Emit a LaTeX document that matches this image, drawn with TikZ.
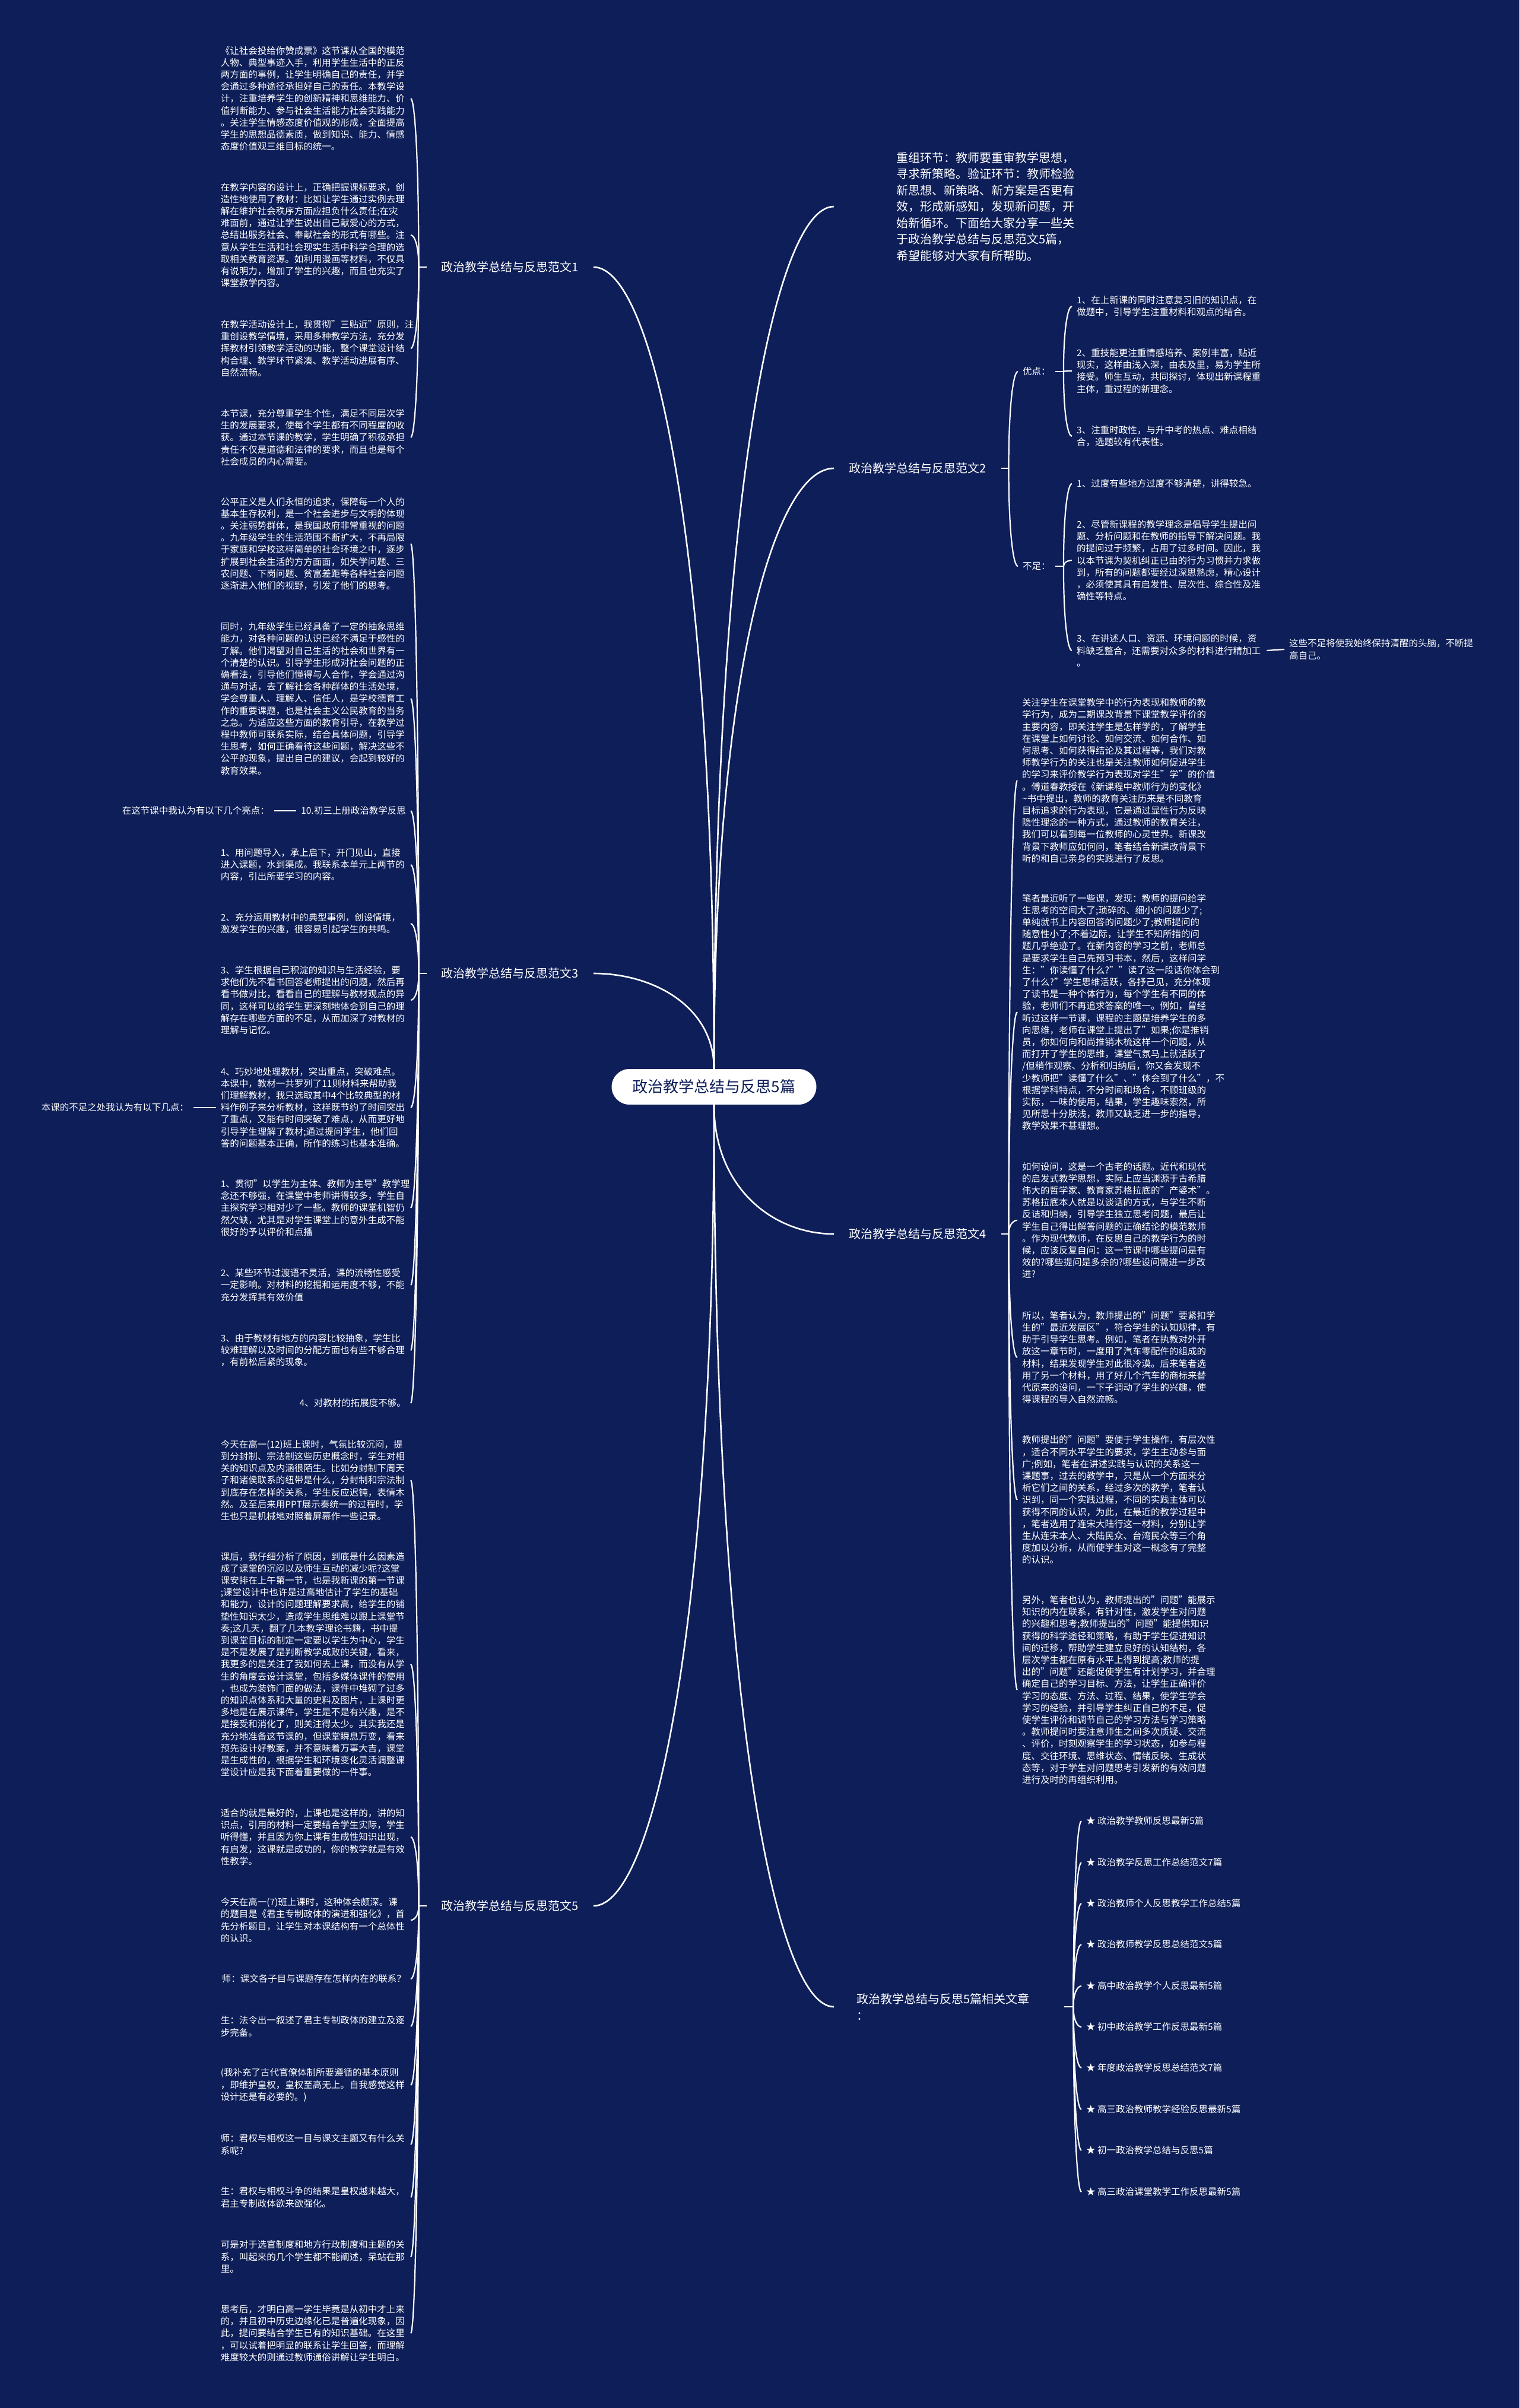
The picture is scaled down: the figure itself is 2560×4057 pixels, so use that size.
\documentclass[tikz,border=0pt]{standalone}
\usepackage{fontspec}
\setmainfont{Noto Sans CJK SC}
\usetikzlibrary{calc}
\definecolor{bgnavy}{RGB}{13,30,88}
\begin{document}
\begin{tikzpicture}[x=1pt,y=-1pt,
 link/.style={draw=white, line width=2.6pt},
 sub/.style={draw=white, line width=2.2pt},
 mm/.style={to path={.. controls ($(\tikztostart)!0.65!(\tikztostart|-\tikztotarget)$) and ($(\tikztotarget)!0.5!(\tikztotarget-|\tikztostart)$) .. (\tikztotarget)}},
 body/.style={text=white, font=\fontsize{15.5}{20.2}\selectfont, align=left, inner xsep=8pt, inner ysep=2pt},
 lblock/.style={body, text width=312pt, anchor=east},
 rblock/.style={body, text width=312pt, anchor=west},
 lone/.style={body, anchor=east},
 rone/.style={body, anchor=west},
 branch/.style={text=white, font=\fontsize{20}{27.5}\selectfont, inner xsep=25pt, inner ysep=4pt},
 root/.style={fill=white, text=bgnavy, rounded corners=30pt, minimum width=345pt, minimum height=60pt, inner sep=0pt, font=\fontsize{26}{30}\selectfont},
]
\fill[bgnavy] (0,0) rectangle (2560,4057);
\useasboundingbox (0,0) rectangle (2560,4057);

% ---------- root and main branches ----------
\node[root] (c) at (1203,1831) {政治教学总结与反思5篇};
\node[branch, anchor=east] (f1) at (1000,450) {政治教学总结与反思范文1};
\node[branch, anchor=west, align=left, inner xsep=105pt] (intro) at (1405,348) {重组环节：教师要重审教学思想，\\寻求新策略。验证环节：教师检验\\新思想、新策略、新方案是否更有\\效，形成新感知，发现新问题，开\\始新循环。下面给大家分享一些关\\于政治教学总结与反思范文5篇，\\希望能够对大家有所帮助。};
\node[branch, anchor=west] (f2) at (1405,789) {政治教学总结与反思范文2};
\node[branch, anchor=east] (f3) at (1000,1640) {政治教学总结与反思范文3};
\node[branch, anchor=west] (f4) at (1405,2079) {政治教学总结与反思范文4};
\node[branch, anchor=east] (f5) at (1000,3211) {政治教学总结与反思范文5};
\node[branch, anchor=west, align=left, text width=312pt, inner xsep=38pt] (rel) at (1405,3381) {政治教学总结与反思5篇相关文章\\：};

\draw[link] (c.north) to[mm] (f1.east);
\draw[link] (c.north) to[mm] (intro.west);
\draw[link] (c.north) to[mm] (f2.west);
\draw[link] (c.north) to[mm] (f3.east);
\draw[link] (c.south) to[mm] (f4.west);
\draw[link] (c.south) to[mm] (f5.east);
\draw[link] (c.south) to[mm] (rel.west);

% ---------- 范文1 ----------
\node[lblock] (a1) at (692,166) {《让社会投给你赞成票》这节课从全国的模范\\人物、典型事迹入手，利用学生生活中的正反\\两方面的事例，让学生明确自己的责任，并学\\会通过多种途径承担好自己的责任。本教学设\\计，注重培养学生的创新精神和思维能力、价\\值判断能力、参与社会生活能力社会实践能力\\。关注学生情感态度价值观的形成，全面提高\\学生的思想品德素质，做到知识、能力、情感\\态度价值观三维目标的统一。};
\node[lblock] (a2) at (692,396) {在教学内容的设计上，正确把握课标要求，创\\造性地使用了教材：比如让学生通过实例去理\\解在维护社会秩序方面应担负什么责任;在灾\\难面前，通过让学生说出自己献爱心的方式，\\总结出服务社会、奉献社会的形式有哪些。注\\意从学生生活和社会现实生活中科学合理的选\\取相关教育资源。如利用漫画等材料，不仅具\\有说明力，增加了学生的兴趣，而且也充实了\\课堂教学内容。};
\node[lblock] (a3) at (692,587) {在教学活动设计上，我贯彻"三贴近"原则，注\\重创设教学情境，采用多种教学方法，充分发\\挥教材引领教学活动的功能，整个课堂设计结\\构合理、教学环节紧凑、教学活动进展有序、\\自然流畅。};
\node[lblock] (a4) at (692,737) {本节课，充分尊重学生个性，满足不同层次学\\生的发展要求，使每个学生都有不同程度的收\\获。通过本节课的教学，学生明确了积极承担\\责任不仅是道德和法律的要求，而且也是每个\\社会成员的内心需要。};
\coordinate (j1) at ([xshift=-13pt]f1.west);
\draw[sub] (f1.west) -- (j1);
\foreach \n in {a1,a2,a3,a4} \draw[sub] (j1) to[mm] (\n.east);

% ---------- 范文3 ----------
\node[lblock] (c1) at (692,916) {公平正义是人们永恒的追求，保障每一个人的\\基本生存权利，是一个社会进步与文明的体现\\。关注弱势群体，是我国政府非常重视的问题\\。九年级学生的生活范围不断扩大，不再局限\\于家庭和学校这样简单的社会环境之中，逐步\\扩展到社会生活的方方面面，如失学问题、三\\农问题、下岗问题、贫富差距等各种社会问题\\逐渐进入他们的视野，引发了他们的思考。};
\node[lblock] (c2) at (692,1177) {同时，九年级学生已经具备了一定的抽象思维\\能力，对各种问题的认识已经不满足于感性的\\了解。他们渴望对自己生活的社会和世界有一\\个清楚的认识。引导学生形成对社会问题的正\\确看法，引导他们懂得与人合作，学会通过沟\\通与对话，去了解社会各种群体的生活处境，\\学会尊重人、理解人、信任人，是学校德育工\\作的重要课题，也是社会主义公民教育的当务\\之急。为适应这些方面的教育引导，在教学过\\程中教师可联系实际，结合具体问题，引导学\\生思考，如何正确看待这些问题，解决这些不\\公平的现象，提出自己的建议，会起到较好的\\教育效果。};
\node[lone] (c3) at (692,1366) {10.初三上册政治教学反思};
\node[lone] (hl) at (462,1366) {在这节课中我认为有以下几个亮点：};
\node[lblock] (c4) at (692,1457) {1、用问题导入，承上启下，开门见山，直接\\进入课题，水到渠成。我联系本单元上两节的\\内容，引出所要学习的内容。};
\node[lblock] (c5) at (692,1556) {2、充分运用教材中的典型事例，创设情境，\\激发学生的兴趣，很容易引起学生的共鸣。};
\node[lblock] (c6) at (692,1685) {3、学生根据自己积淀的知识与生活经验，要\\求他们先不看书回答老师提出的问题，然后再\\看书做对比，看看自己的理解与教材观点的异\\同，这样可以给学生更深刻地体会到自己的理\\解存在哪些方面的不足，从而加深了对教材的\\理解与记忆。};
\node[lblock] (c7) at (692,1866) {4、巧妙地处理教材，突出重点，突破难点。\\本课中，教材一共罗列了11则材料来帮助我\\们理解教材，我只选取其中4个比较典型的材\\料作例子来分析教材，这样既节约了时间突出\\了重点，又能有时间突破了难点，从而更好地\\引导学生理解了教材;通过提问学生，他们回\\答的问题基本正确，所作的练习也基本准确。};
\node[lone] (bz) at (326,1866) {本课的不足之处我认为有以下几点：};
\node[lblock] (c8) at (692,2035) {1、贯彻"以学生为主体、教师为主导"教学理\\念还不够强，在课堂中老师讲得较多，学生自\\主探究学习相对少了一些。教师的课堂机智仍\\然欠缺，尤其是对学生课堂上的意外生成不能\\很好的予以评价和点播};
\node[lblock] (c9) at (692,2165) {2、某些环节过渡语不灵活，课的流畅性感受\\一定影响。对材料的挖掘和运用度不够，不能\\充分发挥其有效价值};
\node[lblock] (c10) at (692,2275) {3、由于教材有地方的内容比较抽象，学生比\\较难理解以及时间的分配方面也有些不够合理\\，有前松后紧的现象。};
\node[lone] (c11) at (692,2364) {4、对教材的拓展度不够。};
\coordinate (j3) at ([xshift=-13pt]f3.west);
\draw[sub] (f3.west) -- (j3);
\foreach \n in {c1,c2,c3,c4,c5,c6,c7,c8,c9,c10,c11} \draw[sub] (j3) to[mm] (\n.east);
\draw[sub] (c3.west) -- (hl.east);
\draw[sub] (c7.west) -- (bz.east);

% ---------- 范文5 ----------
\node[lblock] (e1) at (692,2494) {今天在高一(12)班上课时，气氛比较沉闷，提\\到分封制、宗法制这些历史概念时，学生对相\\关的知识点及内涵很陌生。比如分封制下周天\\子和诸侯联系的纽带是什么，分封制和宗法制\\到底存在怎样的关系，学生反应迟钝，表情木\\然。及至后来用PPT展示秦统一的过程时，学\\生也只是机械地对照着屏幕作一些记录。};
\node[lblock] (e2) at (692,2804) {课后，我仔细分析了原因，到底是什么因素造\\成了课堂的沉闷以及师生互动的减少呢?这堂\\课安排在上午第一节，也是我新课的第一节课\\;课堂设计中也许是过高地估计了学生的基础\\和能力，设计的问题理解要求高，给学生的铺\\垫性知识太少，造成学生思维难以跟上课堂节\\奏;这几天，翻了几本教学理论书籍，书中提\\到课堂目标的制定一定要以学生为中心，学生\\是不是发展了是判断教学成败的关键，看来，\\我更多的是关注了我如何去上课，而没有从学\\生的角度去设计课堂，包括多媒体课件的使用\\，也成为装饰门面的做法，课件中堆砌了过多\\的知识点体系和大量的史料及图片，上课时更\\多地是在展示课件，学生是不是有兴趣，是不\\是接受和消化了，则关注得太少。其实我还是\\充分地准备这节课的，但课堂瞬息万变，看来\\预先设计好教案，并不意味着万事大吉，课堂\\是生成性的，根据学生和环境变化灵活调整课\\堂设计应是我下面着重要做的一件事。};
\node[lblock] (e3) at (692,3095) {适合的就是最好的，上课也是这样的，讲的知\\识点，引用的材料一定要结合学生实际，学生\\听得懂，并且因为你上课有生成性知识出现，\\有启发，这课就是成功的，你的教学就是有效\\性教学。};
\node[lblock] (e4) at (692,3235) {今天在高一(7)班上课时，这种体会颇深。课\\的题目是《君主专制政体的演进和强化》，首\\先分析题目，让学生对本课结构有一个总体性\\的认识。};
\node[lone] (e5) at (692,3334) {师：课文各子目与课题存在怎样内在的联系？};
\node[lblock] (e6) at (692,3414) {生：法令出一叙述了君主专制政体的建立及逐\\步完备。};
\node[lblock] (e7) at (692,3513) {(我补充了古代官僚体制所要遵循的基本原则\\，即维护皇权，皇权至高无上。自我感觉这样\\设计还是有必要的。)};
\node[lblock] (e8) at (692,3613) {师：君权与相权这一目与课文主题又有什么关\\系呢?};
\node[lblock] (e9) at (692,3702) {生：君权与相权斗争的结果是皇权越来越大，\\君主专制政体欲来欲强化。};
\node[lblock] (e10) at (692,3802) {可是对于选官制度和地方行政制度和主题的关\\系，叫起来的几个学生都不能阐述，呆站在那\\里。};
\node[lblock] (e11) at (692,3931) {思考后，才明白高一学生毕竟是从初中才上来\\的，并且初中历史边缘化已是普遍化现象，因\\此，提问要结合学生已有的知识基础。在这里\\，可以试着把明显的联系让学生回答，而理解\\难度较大的则通过教师通俗讲解让学生明白。};
\coordinate (j5) at ([xshift=-13pt]f5.west);
\draw[sub] (f5.west) -- (j5);
\foreach \n in {e1,e2,e3,e4,e5,e6,e7,e8,e9,e10,e11} \draw[sub] (j5) to[mm] (\n.east);

% ---------- 范文2 ----------
\node[rone] (yd) at (1715,626) {优点：};
\node[rone] (bzu) at (1715,954) {不足：};
\coordinate (j2) at ([xshift=13pt]f2.east);
\draw[sub] (f2.east) -- (j2);
\draw[sub] (j2) to[mm] (yd.west);
\draw[sub] (j2) to[mm] (bzu.west);
\node[rblock] (y1) at (1806,516) {1、在上新课的同时注意复习旧的知识点，在\\做题中，引导学生注重材料和观点的结合。};
\node[rblock] (y2) at (1806,625) {2、重技能更注重情感培养、案例丰富，贴近\\现实，这样由浅入深，由表及里，易为学生所\\接受。师生互动，共同探讨，体现出新课程重\\主体，重过程的新理念。};
\node[rblock] (y3) at (1806,735) {3、注重时政性，与升中考的热点、难点相结\\合，选题较有代表性。};
\node[rone] (n1) at (1806,815) {1、过度有些地方过度不够清楚，讲得较急。};
\node[rblock] (n2) at (1806,944) {2、尽管新课程的教学理念是倡导学生提出问\\题、分析问题和在教师的指导下解决问题。我\\的提问过于频繁，占用了过多时间。因此，我\\以本节课为契机纠正已由的行为习惯并力求做\\到，所有的问题都要经过深思熟虑，精心设计\\，必须使其具有启发性、层次性、综合性及准\\确性等特点。};
\node[rblock] (n3) at (1806,1096) {3、在讲述人口、资源、环境问题的时候，资\\料缺乏整合，还需要对众多的材料进行精加工\\。};
\node[rone] (n3x) at (2164,1094) {这些不足将使我始终保持清醒的头脑，不断提\\高自己。};
\coordinate (jy) at ([xshift=14pt]yd.east);
\coordinate (jn) at ([xshift=14pt]bzu.east);
\draw[sub] (yd.east) -- (jy);
\draw[sub] (bzu.east) -- (jn);
\foreach \n in {y1,y2,y3} \draw[sub] (jy) to[mm] (\n.west);
\foreach \n in {n1,n2,n3} \draw[sub] (jn) to[mm] (\n.west);
\draw[sub] (n3.east) -- (n3x.west);

% ---------- 范文4 ----------
\node[rblock] (d1) at (1714,1315) {关注学生在课堂教学中的行为表现和教师的教\\学行为，成为二期课改背景下课堂教学评价的\\主要内容，即关注学生是怎样学的，了解学生\\在课堂上如何讨论、如何交流、如何合作、如\\何思考、如何获得结论及其过程等，我们对教\\师教学行为的关注也是关注教师如何促进学生\\的学习来评价教学行为表现对学生"学"的价值\\。傅道春教授在《新课程中教师行为的变化》\\\textasciitilde 书中提出，教师的教育关注历来是不同教育\\目标追求的行为表现，它是通过显性行为反映\\隐性理念的一种方式，通过教师的教育关注，\\我们可以看到每一位教师的心灵世界。新课改\\背景下教师应如何问，笔者结合新课改背景下\\听的和自己亲身的实践进行了反思。};
\node[rblock] (d2) at (1714,1705) {笔者最近听了一些课，发现：教师的提问给学\\生思考的空间大了;琐碎的、细小的问题少了;\\单纯就书上内容回答的问题少了;教师提问的\\随意性小了;不着边际，让学生不知所措的问\\题几乎绝迹了。在新内容的学习之前，老师总\\是要求学生自己先预习书本，然后，这样问学\\生："你读懂了什么?""读了这一段话你体会到\\了什么?"学生思维活跃，各抒己见，充分体现\\了读书是一种个体行为，每个学生有不同的体\\验，老师们不再追求答案的唯一。例如，曾经\\听过这样一节课，课程的主题是培养学生的多\\向思维，老师在课堂上提出了"如果;你是推销\\员，你如何向和尚推销木梳这样一个问题，从\\而打开了学生的思维，课堂气氛马上就活跃了\\/但稍作观察、分析和归纳后，你又会发现不\\少教师把"读懂了什么"、"体会到了什么"，不\\根据学科特点，不分时间和场合，不顾班级的\\实际，一味的使用，结果，学生趣味索然，所\\见所思十分肤浅，教师又缺乏进一步的指导，\\教学效果不甚理想。};
\node[rblock] (d3) at (1714,2056) {如何设问，这是一个古老的话题。近代和现代\\的启发式教学思想，实际上应当渊源于古希腊\\伟大的哲学家、教育家苏格拉底的"产婆术"。\\苏格拉底本人就是以谈话的方式，与学生不断\\反诘和归纳，引导学生独立思考问题，最后让\\学生自己得出解答问题的正确结论的模范教师\\。作为现代教师，在反思自己的教学行为的时\\候，应该反复自问：这一节课中哪些提问是有\\效的?哪些提问是多余的?哪些设问需进一步改\\进?};
\node[rblock] (d4) at (1714,2287) {所以，笔者认为，教师提出的"问题"要紧扣学\\生的"最近发展区"，符合学生的认知规律，有\\助于引导学生思考。例如，笔者在执教对外开\\放这一章节时，一度用了汽车零配件的组成的\\材料，结果发现学生对此很冷漠。后来笔者选\\用了另一个材料，用了好几个汽车的商标来替\\代原来的设问，一下子调动了学生的兴趣，使\\得课程的导入自然流畅。};
\node[rblock] (d5) at (1714,2527) {教师提出的"问题"要便于学生操作，有层次性\\，适合不同水平学生的要求，学生主动参与面\\广;例如，笔者在讲述实践与认识的关系这一\\课题事，过去的教学中，只是从一个方面来分\\析它们之间的关系，经过多次的教学，笔者认\\识到，同一个实践过程，不同的实践主体可以\\获得不同的认识，为此，在最近的教学过程中\\，笔者选用了连宋大陆行这一材料，分别让学\\生从连宋本人、大陆民众、台湾民众等三个角\\度加以分析，从而使学生对这一概念有了完整\\的认识。};
\node[rblock] (d6) at (1714,2847) {另外，笔者也认为，教师提出的"问题"能展示\\知识的内在联系，有针对性，激发学生对问题\\的兴趣和思考;教师提出的"问题"能提供知识\\获得的科学途径和策略，有助于学生促进知识\\间的迁移，帮助学生建立良好的认知结构，各\\层次学生都在原有水平上得到提高;教师的提\\出的"问题"还能促使学生有计划学习，并合理\\确定自己的学习目标、方法，让学生正确评价\\学习的态度、方法、过程、结果，使学生学会\\学习的经验，并引导学生纠正自己的不足，促\\使学生评价和调节自己的学习方法与学习策略\\。教师提问时要注意师生之间多次质疑、交流\\、评价，时刻观察学生的学习状态，如参与程\\度、交往环境、思维状态、情绪反映、生成状\\态等，对于学生对问题思考引发新的有效问题\\进行及时的再组织利用。};
\coordinate (j4) at ([xshift=13pt]f4.east);
\draw[sub] (f4.east) -- (j4);
\foreach \n in {d1,d2,d3,d4,d5,d6} \draw[sub] (j4) to[mm] (\n.west);

% ---------- related articles ----------
\node[rone] (r1) at (1822,3068) {★ 政治教学教师反思最新5篇};
\node[rone] (r2) at (1822,3138) {★ 政治教学反思工作总结范文7篇};
\node[rone] (r3) at (1822,3207) {★ 政治教师个人反思教学工作总结5篇};
\node[rone] (r4) at (1822,3276) {★ 政治教师教学反思总结范文5篇};
\node[rone] (r5) at (1822,3346) {★ 高中政治教学个人反思最新5篇};
\node[rone] (r6) at (1822,3415) {★ 初中政治教学工作反思最新5篇};
\node[rone] (r7) at (1822,3484) {★ 年度政治教学反思总结范文7篇};
\node[rone] (r8) at (1822,3554) {★ 高三政治教师教学经验反思最新5篇};
\node[rone] (r9) at (1822,3623) {★ 初一政治教学总结与反思5篇};
\node[rone] (r10) at (1822,3693) {★ 高三政治课堂教学工作反思最新5篇};
\coordinate (jr) at ([xshift=15pt]rel.east);
\draw[sub] (rel.east) -- (jr);
\foreach \n in {r1,r2,r3,r4,r5,r6,r7,r8,r9,r10} \draw[sub] (jr) to[mm] (\n.west);
\end{tikzpicture}
\end{document}
